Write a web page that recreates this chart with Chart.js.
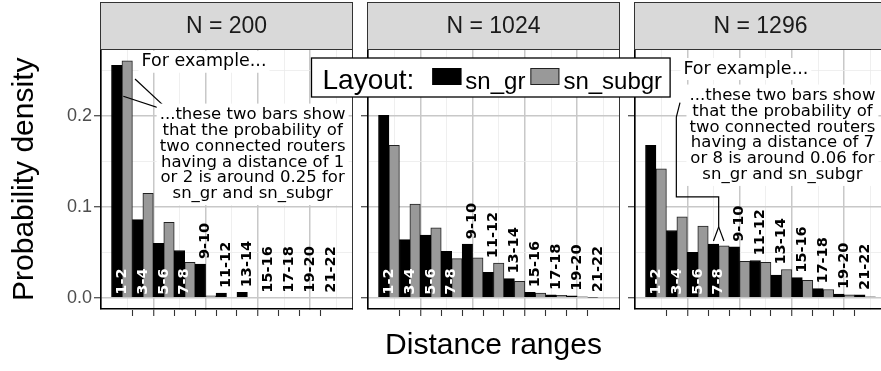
<!DOCTYPE html>
<html>
<head>
<meta charset="utf-8">
<title>Distance ranges</title>
<script src="https://cdn.jsdelivr.net/npm/chart.js@4.4.1/dist/chart.umd.min.js"></script>
<style>
    html, body { margin: 0; padding: 0; background: #fff; }
    #fig { position: relative; width: 881px; height: 371px; overflow: hidden; }
    .panel { position: absolute; left: 0; top: 0; height: 371px; }
</style>
</head>
<body>
<div id="fig">
    <div class="panel" style="width:881px"><canvas id="p1"></canvas></div>
    <div class="panel" style="width:881px"><canvas id="p2"></canvas></div>
    <div class="panel" style="width:900px"><canvas id="p3"></canvas></div>
</div>
<script>
// Distance ranges (categories) and network sizes (facets)
const ranges = ['1-2', '3-4', '5-6', '7-8', '9-10', '11-12', '13-14', '15-16', '17-18', '19-20', '21-22'];
const networkSizes = [200, 1024, 1296];
const layoutNames = ['sn_gr', 'sn_subgr'];

// Probability density per distance range
const snGrN200     = [0.256, 0.086, 0.060, 0.052, 0.037, 0.005, 0.006, 0, 0, 0, 0];
const snSubgrN200  = [0.261, 0.115, 0.083, 0.039, 0.002, 0, 0, 0, 0, 0, 0];
const snGrN1024    = [0.201, 0.064, 0.069, 0.051, 0.059, 0.028, 0.021, 0.006, 0.003, 0.002, 0.0005];
const snSubgrN1024 = [0.168, 0.103, 0.077, 0.043, 0.044, 0.038, 0.018, 0.005, 0.0026, 0.001, 0];
const snGrN1296    = [0.168, 0.074, 0.050, 0.059, 0.056, 0.041, 0.025, 0.022, 0.010, 0.004, 0.003];
const snSubgrN1296 = [0.142, 0.089, 0.079, 0.057, 0.040, 0.039, 0.031, 0.019, 0.009, 0.003, 0.001];

const grSeries = [snGrN200, snGrN1024, snGrN1296];
const subgrSeries = [snSubgrN200, snSubgrN1024, snSubgrN1296];

// Axis breaks
const yLabelTicks = [0, 0.1, 0.2];
const yMinorTicks = [0.05, 0.15, 0.25];
const xMajorGrid = [0, 5, 10, 15, 20];
const xMinorGrid = [2.5, 7.5, 12.5, 17.5, 22.5];
const xTickMarks = [3, 5, 7, 9, 11, 13, 15, 17, 19, 21];

// Annotation texts
const noteHead = 'For example...';
const noteN200 = ['...these two bars show', 'that the probability of', 'two connected routers',
    'having a distance of 1', 'or 2 is around 0.25 for', 'sn_gr and sn_subgr'];
const noteN1296 = ['...these two bars show', 'that the probability of', 'two connected routers',
    'having a distance of 7', 'or 8 is around 0.06 for', 'sn_gr and sn_subgr'];

// where the notes sit (data units of each facet)
const notes = [
    { head: [9.85, 0.260], body: [14.5, 0.158], lines: noteN200,
      arrows: [[[6.6, 0.205], [3.25, 0.241]], [[6.6, 0.205], [2.13, 0.222]]] },
    null,
    { head: [10.6, 0.252], body: [14.1, 0.179], lines: noteN1296,
      arrows: [[[4.3, 0.215], [3.95, 0.199], [3.95, 0.111], [8, 0.111], [8, 0.078], [7.5, 0.0625]],
               [[8, 0.078], [8.5, 0.0625]]] }
];

// range "a-b" covers [a, b+1] on the x axis -> centre a+1
const rangeCenter = r => parseInt(r, 10) + 1;

// ggplot-like 5% expansion
const allValues = grSeries.concat(subgrSeries).flat();
const yMax = Math.max(...allValues);
const Y_MIN = -0.05 * yMax, Y_MAX = yMax * 1.05;
const xLo = 1, xHi = 23;
const X_MIN = xLo - 0.05 * (xHi - xLo), X_MAX = xHi + 0.05 * (xHi - xLo);

const SANS = '"Liberation Sans", Arial, sans-serif';
const DEJAVU = '"DejaVu Sans", sans-serif';
Chart.defaults.font.family = SANS;

const facetPlugin = {
    id: 'facet',
    afterDatasetsDraw(chart, args, opts) {
        const { ctx } = chart;
        const x = chart.scales.x, y = chart.scales.y;
        const gr = chart.data.datasets[0].data;
        const sub = chart.data.datasets[1].data;
        ctx.save();

        // range labels, rotated
        ctx.font = 'bold 14.5px ' + DEJAVU;
        ctx.textAlign = 'left';
        ctx.textBaseline = 'middle';
        ranges.forEach((r, k) => {
            const inside = k < 4;
            const top = Math.max(gr[k].y, sub[k].y);
            const px = x.getPixelForValue(gr[k].x);
            const py = inside ? y.getPixelForValue(0) - 3 : y.getPixelForValue(top) - 5;
            ctx.save();
            ctx.translate(px, py);
            ctx.rotate(-Math.PI / 2);
            ctx.fillStyle = inside ? '#fff' : '#000';
            ctx.fillText(r, 0, 0);
            ctx.restore();
        });

        // annotation
        const note = opts.note;
        if (note) {
            ctx.strokeStyle = '#000';
            ctx.lineWidth = 1.2;
            note.arrows.forEach(path => {
                ctx.beginPath();
                path.forEach(([u, v], i) => {
                    const px = x.getPixelForValue(u), py = y.getPixelForValue(v);
                    if (i === 0) ctx.moveTo(px, py); else ctx.lineTo(px, py);
                });
                ctx.stroke();
            });

            ctx.textAlign = 'center';
            ctx.textBaseline = 'middle';
            // head
            ctx.font = '17.5px ' + DEJAVU;
            let hx = x.getPixelForValue(note.head[0]), hy = y.getPixelForValue(note.head[1]);
            let hw = ctx.measureText(noteHead).width;
            ctx.fillStyle = '#fff';
            ctx.fillRect(hx - hw / 2 - 3, hy - 11, hw + 6, 22);
            ctx.fillStyle = '#000';
            ctx.fillText(noteHead, hx, hy);

            // body
            ctx.font = '16.5px ' + DEJAVU;
            const lh = 15.9;
            const bx = x.getPixelForValue(note.body[0]), by = y.getPixelForValue(note.body[1]);
            const bw = Math.max(...note.lines.map(l => ctx.measureText(l).width));
            const bh = note.lines.length * lh;
            ctx.fillStyle = '#fff';
            ctx.fillRect(bx - bw / 2 - 3, by - bh / 2 - 3, bw + 6, bh + 6);
            ctx.fillStyle = '#000';
            note.lines.forEach((l, i) => {
                ctx.fillText(l, bx, by - bh / 2 + lh * (i + 0.5));
            });
        }
        ctx.restore();
    },
    afterDraw(chart, args, opts) {
        const { ctx, chartArea: { left, right, top, bottom } } = chart;
        ctx.save();

        // panel frame
        ctx.strokeStyle = '#333';
        ctx.lineWidth = 1;
        ctx.beginPath();
        ctx.moveTo(left, top + 0.5);
        ctx.lineTo(right - 0.5, top + 0.5);
        ctx.lineTo(right - 0.5, bottom);
        ctx.stroke();
        ctx.strokeStyle = '#000';
        ctx.lineWidth = 1.6;
        ctx.beginPath();
        ctx.moveTo(left + 0.8, top);
        ctx.lineTo(left + 0.8, bottom - 0.8);
        ctx.lineTo(right, bottom - 0.8);
        ctx.stroke();

        // strip
        const stripTop = 2;
        ctx.fillStyle = '#d9d9d9';
        ctx.fillRect(left, stripTop, right - left, top - stripTop);
        ctx.strokeStyle = '#333';
        ctx.lineWidth = 1;
        ctx.strokeRect(left + 0.5, stripTop + 0.5, right - left - 1, top - stripTop);
        ctx.fillStyle = '#1a1a1a';
        ctx.font = '23px ' + SANS;
        ctx.textAlign = 'center';
        ctx.textBaseline = 'middle';
        ctx.fillText('N = ' + opts.size, (left + right) / 2, (stripTop + top) / 2 + 1);

        // legend (drawn once, on the top-most canvas)
        if (opts.legend) {
            const lx = 311.5, ly = 58, lhgt = 39;
            ctx.textAlign = 'left';
            ctx.textBaseline = 'alphabetic';
            ctx.font = '28px ' + SANS;
            const titleW = ctx.measureText('Layout:').width;
            ctx.font = '24px ' + SANS;
            const items = chart.data.datasets.map(ds => ({
                label: ds.label, color: ds.backgroundColor, border: ds.borderColor,
                w: ctx.measureText(ds.label).width
            }));
            const keyW = 29, keyH = 17;
            let w = 11 + titleW + 18;
            items.forEach((it, i) => { w += keyW + 4 + it.w + (i < items.length - 1 ? 5 : 8); });

            ctx.fillStyle = '#fff';
            ctx.fillRect(lx, ly, w, lhgt);
            ctx.strokeStyle = '#000';
            ctx.lineWidth = 1.3;
            ctx.strokeRect(lx, ly, w, lhgt);

            const base = ly + 30.5;
            let cx = lx + 11;
            ctx.fillStyle = '#000';
            ctx.font = '28px ' + SANS;
            ctx.fillText('Layout:', cx, base);
            cx += titleW + 18;
            ctx.font = '24px ' + SANS;
            items.forEach(it => {
                ctx.fillStyle = it.color;
                ctx.fillRect(cx, ly + 10, keyW, keyH);
                ctx.strokeStyle = it.border;
                ctx.lineWidth = 1;
                ctx.strokeRect(cx + 0.5, ly + 10.5, keyW - 1, keyH - 1);
                cx += keyW + 4;
                ctx.fillStyle = '#000';
                ctx.fillText(it.label, cx, base);
                cx += it.w + 5;
            });
        }
        ctx.restore();
    }
};

// horizontal placement of each facet (canvas padding)
const padLeft = [0, 355, 622];
const padRight = [528, 261, 13];
const yAxisWidth = [100, 12, 12];

function makePanel(i) {
    const first = i === 0;
    const middle = i === 1;
    const gr = grSeries[i], sub = subgrSeries[i];
    const xgTicks = [...new Set(xMajorGrid.concat(xMinorGrid, xTickMarks))].sort((a, b) => a - b);
    const yTicks = yLabelTicks.concat(yMinorTicks).sort((a, b) => a - b);

    return new Chart(document.getElementById('p' + (i + 1)), {
        type: 'bar',
        data: {
            datasets: [{
                label: layoutNames[0],
                data: ranges.map((r, k) => ({ x: rangeCenter(r), y: gr[k] })),
                backgroundColor: '#000',
                borderColor: '#000',
                borderWidth: 1,
                xAxisID: 'x'
            }, {
                label: layoutNames[1],
                data: ranges.map((r, k) => ({ x: rangeCenter(r), y: sub[k] })),
                backgroundColor: '#999999',
                borderColor: '#222',
                borderWidth: 1,
                xAxisID: 'x'
            }]
        },
        options: {
            responsive: true,
            maintainAspectRatio: false,
            animation: false,
            layout: { padding: { left: padLeft[i], right: padRight[i], top: 49, bottom: 0 } },
            datasets: { bar: { categoryPercentage: 1, barPercentage: 1, grouped: true } },
            plugins: {
                legend: { display: false },
                tooltip: { enabled: false },
                facet: { size: networkSizes[i], note: notes[i], legend: i === 2 }
            },
            scales: {
                x: {
                    type: 'linear',
                    display: false,
                    min: X_MIN, max: X_MAX,
                    offset: false,
                    afterBuildTicks: s => { s.ticks = ranges.map(r => ({ value: rangeCenter(r) })); }
                },
                xg: {
                    type: 'linear',
                    position: 'bottom',
                    min: X_MIN, max: X_MAX,
                    offset: false,
                    afterBuildTicks: s => { s.ticks = xgTicks.map(v => ({ value: v })); },
                    afterFit: s => { s.height = 61.5; },
                    grid: {
                        offset: false,
                        color: c => xMajorGrid.includes(c.tick.value) ? '#c8c8c8'
                            : (xMinorGrid.includes(c.tick.value) ? '#ebebeb' : 'rgba(0,0,0,0)'),
                        lineWidth: c => xMajorGrid.includes(c.tick.value) ? 1.5 : 0.8,
                        tickColor: c => xTickMarks.includes(c.tick.value) ? '#333' : 'rgba(0,0,0,0)',
                        tickWidth: 1.1,
                        tickLength: 6.5
                    },
                    border: { display: false },
                    ticks: { display: false },
                    title: {
                        display: middle,
                        text: 'Distance ranges',
                        color: '#000',
                        font: { size: 30 },
                        padding: { top: 0, bottom: 7 }
                    }
                },
                y: {
                    min: Y_MIN, max: Y_MAX,
                    afterBuildTicks: s => { s.ticks = yTicks.map(v => ({ value: v })); },
                    afterFit: s => { s.width = yAxisWidth[i]; },
                    grid: {
                        color: c => yLabelTicks.includes(c.tick.value) ? '#c8c8c8' : '#ebebeb',
                        lineWidth: c => yLabelTicks.includes(c.tick.value) ? 1.5 : 0.8,
                        tickColor: c => yLabelTicks.includes(c.tick.value) ? '#333' : 'rgba(0,0,0,0)',
                        tickWidth: 1.1,
                        tickLength: 6
                    },
                    border: { display: false },
                    ticks: {
                        display: first,
                        color: '#4d4d4d',
                        font: { size: 18 },
                        padding: 2,
                        callback: v => yLabelTicks.includes(v) ? v.toFixed(1) : ''
                    },
                    title: {
                        display: first,
                        text: 'Probability density',
                        color: '#000',
                        font: { size: 30 },
                        padding: { top: 7, bottom: 0 }
                    }
                }
            }
        },
        plugins: [facetPlugin]
    });
}

document.addEventListener('DOMContentLoaded', () => {
    networkSizes.forEach((n, i) => makePanel(i));
});
</script>
</body>
</html>
